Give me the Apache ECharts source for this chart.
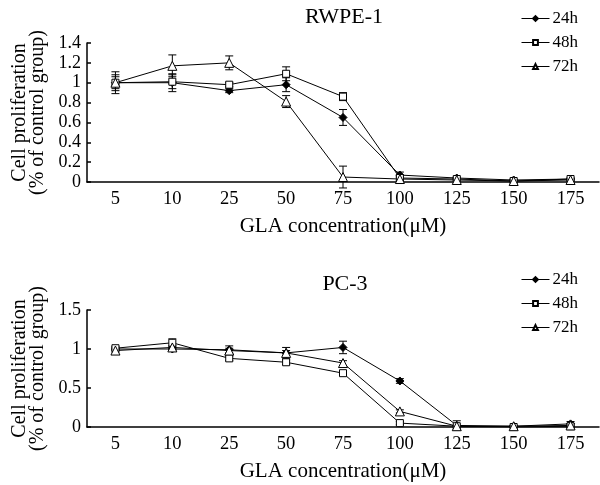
<!DOCTYPE html>
<html>
<head>
<meta charset="utf-8">
<script src="https://cdn.jsdelivr.net/npm/echarts@6/dist/echarts.min.js"></script>
<style>html,body{margin:0;padding:0;background:#fff;}#c{width:600px;height:485px;}</style>
</head>
<body>
<div id="c"></div>
<script>
const categories = ['5','10','25','50','75','100','125','150','175'];
const seriesNames = ['24h','48h','72h'];

// RWPE-1
const rwpe24 = [1.00, 1.00, 0.92, 0.98, 0.65, 0.07, 0.04, 0.02, 0.03];
const rwpe48 = [1.00, 1.01, 0.98, 1.09, 0.86, 0.04, 0.03, 0.01, 0.03];
const rwpe72 = [1.00, 1.17, 1.20, 0.81, 0.05, 0.03, 0.02, 0.01, 0.02];
const rwpe24Err = [0.06, 0.09, 0.02, 0.07, 0.08, 0.03, 0.01, 0.01, 0.01];
const rwpe48Err = [0.08, 0.07, 0.02, 0.07, 0.04, 0.02, 0.01, 0.01, 0.01];
const rwpe72Err = [0.11, 0.11, 0.07, 0.06, 0.11, 0.02, 0.01, 0.01, 0.01];

// PC-3
const pc24 = [1.00, 1.00, 0.99, 0.95, 1.02, 0.59, 0.02, 0.01, 0.04];
const pc48 = [1.01, 1.08, 0.88, 0.83, 0.69, 0.05, 0.01, 0.00, 0.01];
const pc72 = [0.98, 1.02, 0.98, 0.95, 0.82, 0.20, 0.01, 0.01, 0.02];
const pc24Err = [0.02, 0.02, 0.05, 0.07, 0.08, 0.03, 0.06, 0.01, 0.03];
const pc48Err = [0.02, 0.05, 0.03, 0.03, 0.02, 0.02, 0.01, 0.01, 0.01];
const pc72Err = [0.02, 0.02, 0.03, 0.03, 0.03, 0.02, 0.01, 0.01, 0.02];

const yTicksTop = {min: 0, max: 1.4, interval: 0.2};
const yTicksBottom = {min: 0, max: 1.5, interval: 0.5};

const FONT = 'Liberation Serif';
const symbols = [
  {symbol: 'diamond', size: 8, fill: '#000'},
  {symbol: 'rect', size: 7, fill: '#fff'},
  {symbol: 'triangle', size: 9, fill: '#fff'}
];

function lineSeries(name, data, k, idx) {
  return {
    name: name, type: 'line', xAxisIndex: idx, yAxisIndex: idx,
    data: data, symbol: symbols[k].symbol, symbolSize: symbols[k].size,
    showAllSymbol: true, z: 5,
    lineStyle: {color: '#000', width: 1},
    itemStyle: {color: symbols[k].fill, borderColor: '#000', borderWidth: 1},
    emphasis: {disabled: true}, animation: false
  };
}
function errSeries(data, err, idx) {
  const d = data.map((v, i) => [i, v - err[i], v + err[i]]);
  return {
    type: 'custom', xAxisIndex: idx, yAxisIndex: idx, data: d, z: 3, silent: true, animation: false,
    renderItem: function (params, api) {
      const x = api.value(0);
      const lo = api.coord([x, api.value(1)]);
      const hi = api.coord([x, api.value(2)]);
      const w = 4;
      const st = {stroke: '#000', lineWidth: 1};
      return {type: 'group', children: [
        {type: 'line', shape: {x1: lo[0], y1: lo[1], x2: hi[0], y2: hi[1]}, style: st},
        {type: 'line', shape: {x1: lo[0]-w, y1: lo[1], x2: lo[0]+w, y2: lo[1]}, style: st},
        {type: 'line', shape: {x1: hi[0]-w, y1: hi[1], x2: hi[0]+w, y2: hi[1]}, style: st}
      ]};
    }
  };
}

function xAxis(idx) {
  return {
    type: 'category', gridIndex: idx, data: categories, boundaryGap: true,
    name: 'GLA concentration(μM)', nameLocation: 'middle', nameGap: 34,
    nameTextStyle: {fontFamily: FONT, fontSize: 21, color: '#000'},
    axisLine: {lineStyle: {color: '#000', width: 1.5}},
    axisTick: {inside: true, length: 5, lineStyle: {color: '#000', width: 1.5}},
    axisLabel: {fontFamily: FONT, fontSize: 18.5, color: '#000', margin: 8},
    splitLine: {show: false}
  };
}
function yAxis(idx, t) {
  return {
    type: 'value', gridIndex: idx, min: t.min, max: t.max, interval: t.interval,
    name: 'Cell proliferation\n(% of control group)', nameLocation: 'middle', nameGap: 38,
    nameTextStyle: {fontFamily: FONT, fontSize: 20, color: '#000', lineHeight: 18},
    axisLine: {show: true, lineStyle: {color: '#000', width: 1.5}},
    axisTick: {show: true, inside: true, length: 4, lineStyle: {color: '#000', width: 1.5}},
    axisLabel: {fontFamily: FONT, fontSize: 18, color: '#000', margin: 6},
    splitLine: {show: false}
  };
}
function legend(top) {
  return {
    data: seriesNames, orient: 'vertical', left: 516, top: top,
    itemWidth: 28, itemHeight: 6, itemGap: 7,
    lineStyle: {width: 1, color: '#000'},
    textStyle: {fontFamily: FONT, fontSize: 17, color: '#000', padding: [0, 0, 0, -2]},
    selectedMode: false
  };
}

const chart = echarts.init(document.getElementById('c'));
chart.setOption({
  backgroundColor: '#fff',
  animation: false,
  title: [
    {text: 'RWPE-1', left: 339, top: 1, textAlign: 'center', textStyle: {fontFamily: FONT, fontSize: 22, fontWeight: 'normal', color: '#000'}},
    {text: 'PC-3', left: 340, top: 268, textAlign: 'center', textStyle: {fontFamily: FONT, fontSize: 22, fontWeight: 'normal', color: '#000'}}
  ],
  legend: [legend(5), legend(266)],
  grid: [
    {left: 87, top: 43, width: 512, height: 139},
    {left: 87, top: 310, width: 512, height: 117}
  ],
  xAxis: [xAxis(0), xAxis(1)],
  yAxis: [yAxis(0, yTicksTop), yAxis(1, yTicksBottom)],
  series: [
    errSeries(rwpe24, rwpe24Err, 0), errSeries(rwpe48, rwpe48Err, 0), errSeries(rwpe72, rwpe72Err, 0),
    lineSeries('24h', rwpe24, 0, 0), lineSeries('48h', rwpe48, 1, 0), lineSeries('72h', rwpe72, 2, 0),
    errSeries(pc24, pc24Err, 1), errSeries(pc48, pc48Err, 1), errSeries(pc72, pc72Err, 1),
    lineSeries('24h', pc24, 0, 1), lineSeries('48h', pc48, 1, 1), lineSeries('72h', pc72, 2, 1)
  ]
});
</script>
</body>
</html>
